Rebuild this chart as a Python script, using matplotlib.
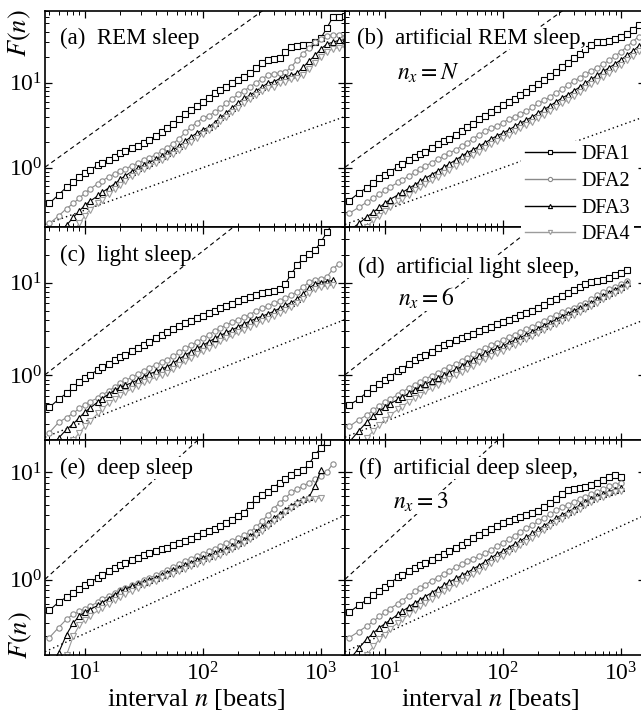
import numpy as np
import matplotlib
matplotlib.use('Agg')
import matplotlib.pyplot as plt
from matplotlib.lines import Line2D
from matplotlib.ticker import NullFormatter

plt.rcParams['font.family'] = ['Liberation Serif', 'DejaVu Serif']
plt.rcParams['mathtext.fontset'] = 'stix'

# window size n (beats)
N = [5, 6, 7, 8, 9, 10, 11, 13, 14, 16,
     18, 20, 22, 25, 28, 32, 35, 40, 45, 50,
     56, 63, 71, 79, 89, 100, 112, 126, 141, 158,
     178, 200, 224, 251, 282, 316, 355, 398, 447, 501,
     562, 631, 708, 794, 891, 1000, 1122, 1259, 1413, 1585]

# (a) REM sleep
A_DFA1 = [0.38, 0.48, 0.59, 0.68, 0.78, 0.86, 0.94, 1.07, 1.13, 1.23,
          1.33, 1.49, 1.57, 1.70, 1.80, 1.95, 2.12, 2.36, 2.63, 2.93,
          3.27, 3.74, 4.29, 4.78, 5.3, 5.9, 6.6, 7.6, 8.2, 8.9,
          9.9, 10.8, 11.7, 13.0, 14.9, 17.1, 18.5, 19.0, 19.6, 23,
          26.4, 27.1, 27.8, 27.8, 30.2, 33.7, 44, 59, 59, 61]
A_DFA2 = [0.22, 0.27, 0.33, 0.38, 0.44, 0.50, 0.56, 0.65, 0.70, 0.78,
          0.85, 0.91, 0.97, 1.05, 1.13, 1.22, 1.30, 1.42, 1.56, 1.72,
          1.92, 2.2, 2.6, 3.0, 3.4, 3.85, 4.1, 4.5, 5.0, 5.7,
          6.5, 7.3, 8.1, 8.9, 10.0, 11.1, 12.2, 12.8, 13.0, 13.3,
          15.5, 18.5, 22, 26, 30, 33, 35.5, 37, 37, 35]
A_DFA3 = [0.13, 0.17, 0.21, 0.26, 0.31, 0.36, 0.40, 0.47, 0.51, 0.58,
          0.65, 0.73, 0.80, 0.90, 0.98, 1.08, 1.15, 1.25, 1.36, 1.48,
          1.62, 1.8, 2.05, 2.3, 2.55, 2.78, 3.0, 3.4, 3.9, 4.4,
          5.1, 5.8, 6.6, 7.1, 8.0, 8.9, 9.9, 10.2, 11.2, 11.8,
          12.2, 13.0, 15.3, 18.0, 21, 25, 28.5, 30, 31.5, 32]
A_DFA4 = [0.09, 0.11, 0.14, 0.18, 0.22, 0.27, 0.32, 0.38, 0.42, 0.49,
          0.56, 0.63, 0.70, 0.80, 0.88, 0.97, 1.04, 1.13, 1.23, 1.33,
          1.45, 1.6, 1.8, 2.0, 2.25, 2.5, 2.75, 3.1, 3.5, 3.9,
          4.5, 5.1, 5.8, 6.4, 7.1, 7.9, 8.6, 9.0, 9.8, 10.3,
          11.0, 11.5, 12.5, 14.5, 17, 20, 23, 25, 26, 26.5]

# (b) artificial REM sleep
B_DFA1 = [0.41, 0.50, 0.58, 0.66, 0.75, 0.83, 0.90, 1.02, 1.10, 1.22,
          1.33, 1.44, 1.54, 1.70, 1.88, 2.05, 2.2, 2.45, 2.7, 3.0,
          3.3, 3.7, 4.1, 4.5, 4.9, 5.4, 5.9, 6.5, 7.1, 7.8,
          8.6, 9.6, 10.7, 12.0, 13.5, 15.2, 17.2, 19.5, 22, 25,
          28, 30, 30.5, 31, 33, 35, 38, 42, 48]
B_DFA2 = [0.29, 0.34, 0.39, 0.44, 0.49, 0.54, 0.59, 0.67, 0.71, 0.80,
          0.88, 0.96, 1.04, 1.15, 1.25, 1.38, 1.48, 1.63, 1.80, 1.97,
          2.2, 2.45, 2.7, 2.9, 3.1, 3.4, 3.7, 4.0, 4.3, 4.6,
          5.2, 5.7, 6.2, 6.8, 7.6, 8.4, 9.4, 10.4, 11.5, 12.6,
          13.8, 15.1, 16.6, 18.4, 20.6, 23.2, 26.5, 30.5, 35]
B_DFA3 = [0.18, 0.22, 0.26, 0.30, 0.34, 0.38, 0.42, 0.48, 0.51, 0.57,
          0.63, 0.69, 0.75, 0.83, 0.91, 1.02, 1.10, 1.24, 1.37, 1.50,
          1.62, 1.78, 1.97, 2.16, 2.37, 2.55, 2.78, 3.06, 3.35, 3.65,
          3.97, 4.4, 4.85, 5.35, 5.95, 6.6, 7.2, 8.0, 8.9, 9.9,
          11.0, 12.2, 13.6, 15.0, 16.7, 18.6, 21, 23.5, 27]
B_DFA4 = [0.14, 0.17, 0.20, 0.24, 0.27, 0.31, 0.34, 0.40, 0.43, 0.48,
          0.54, 0.59, 0.64, 0.71, 0.78, 0.87, 0.94, 1.06, 1.17, 1.28,
          1.4, 1.54, 1.72, 1.89, 2.06, 2.22, 2.42, 2.67, 2.93, 3.19,
          3.45, 3.83, 4.2, 4.65, 5.17, 5.73, 6.2, 6.9, 7.7, 8.6,
          9.6, 10.6, 11.8, 13.0, 14.5, 16.2, 18.4, 20.6, 23.5]

# (c) light sleep
C_DFA1 = [0.45, 0.55, 0.64, 0.74, 0.84, 0.93, 1.01, 1.15, 1.22, 1.34,
          1.46, 1.57, 1.67, 1.82, 1.97, 2.15, 2.3, 2.5, 2.7, 2.9,
          3.15, 3.4, 3.65, 3.9, 4.15, 4.4, 4.7, 5.0, 5.3, 5.6,
          5.9, 6.3, 6.7, 7.0, 7.4, 7.7, 7.9, 8.1, 8.6, 9.8,
          12.5, 15.5, 18.5, 20.5, 22.5, 27.5, 35, 44]
C_DFA2 = [0.24, 0.31, 0.35, 0.39, 0.44, 0.48, 0.52, 0.57, 0.61, 0.68,
          0.75, 0.82, 0.88, 0.95, 1.03, 1.12, 1.2, 1.3, 1.4, 1.48,
          1.6, 1.78, 1.95, 2.1, 2.3, 2.5, 2.75, 3.0, 3.25, 3.5,
          3.75, 4.0, 4.25, 4.5, 5.0, 5.3, 5.6, 6.0, 6.3, 6.8,
          7.4, 8.0, 9.0, 10.2, 10.8, 11.0, 11.5, 14, 16]
C_DFA3 = [0.16, 0.21, 0.26, 0.30, 0.35, 0.40, 0.44, 0.52, 0.56, 0.63,
          0.69, 0.74, 0.78, 0.83, 0.89, 0.97, 1.03, 1.1, 1.17, 1.24,
          1.35, 1.5, 1.65, 1.8, 1.95, 2.1, 2.3, 2.5, 2.7, 2.9,
          3.1, 3.35, 3.6, 3.85, 4.1, 4.35, 4.6, 4.9, 5.3, 5.7,
          6.1, 6.7, 7.6, 8.8, 9.6, 10, 10.3, 10.6]
C_DFA4 = [0.10, 0.13, 0.16, 0.20, 0.24, 0.28, 0.32, 0.39, 0.43, 0.50,
          0.56, 0.62, 0.66, 0.71, 0.77, 0.84, 0.89, 0.95, 1.01, 1.07,
          1.16, 1.28, 1.41, 1.54, 1.68, 1.82, 1.98, 2.15, 2.33, 2.5,
          2.7, 2.9, 3.1, 3.35, 3.6, 3.85, 4.1, 4.4, 4.75, 5.1,
          5.5, 6.0, 6.7, 7.7, 8.5, 9.0, 9.2, 9.5]

# (d) artificial light sleep
D_DFA1 = [0.48, 0.55, 0.65, 0.73, 0.81, 0.89, 0.97, 1.1, 1.18, 1.32,
          1.47, 1.57, 1.65, 1.8, 1.98, 2.12, 2.22, 2.38, 2.52, 2.65,
          2.82, 3.0, 3.18, 3.35, 3.55, 3.76, 3.95, 4.2, 4.47, 4.7,
          5.0, 5.3, 5.75, 6.3, 6.7, 7.2, 7.7, 8.3, 9.0, 9.8,
          10.3, 10.5, 10.8, 11.3, 12, 12.8, 13.8]
D_DFA2 = [0.28, 0.33, 0.37, 0.42, 0.47, 0.51, 0.55, 0.62, 0.66, 0.73,
          0.79, 0.85, 0.91, 0.99, 1.06, 1.15, 1.22, 1.32, 1.42, 1.55,
          1.68, 1.82, 1.95, 2.1, 2.25, 2.4, 2.6, 2.75, 2.9, 3.15,
          3.35, 3.6, 3.9, 4.2, 4.5, 4.8, 5.1, 5.4, 5.75, 6.0,
          6.6, 7.3, 7.9, 8.5, 9.0, 9.6, 10.5]
D_DFA3 = [0.19, 0.25, 0.31, 0.36, 0.41, 0.45, 0.49, 0.55, 0.58, 0.64,
          0.70, 0.75, 0.80, 0.87, 0.93, 1.0, 1.07, 1.16, 1.25, 1.36,
          1.48, 1.6, 1.72, 1.85, 1.96, 2.05, 2.25, 2.4, 2.55, 2.75,
          2.95, 3.2, 3.45, 3.7, 4.0, 4.3, 4.6, 4.95, 5.3, 5.65,
          6.1, 6.6, 7.2, 7.8, 8.4, 9.1, 10.0]
D_DFA4 = [0.13, 0.17, 0.21, 0.25, 0.29, 0.33, 0.37, 0.43, 0.46, 0.52,
          0.57, 0.62, 0.67, 0.73, 0.79, 0.86, 0.92, 1.0, 1.08, 1.17,
          1.27, 1.38, 1.5, 1.62, 1.74, 1.85, 2.0, 2.15, 2.3, 2.47,
          2.65, 2.85, 3.08, 3.32, 3.6, 3.88, 4.2, 4.5, 4.85, 5.2,
          5.6, 6.05, 6.6, 7.2, 7.8, 8.4, 9.2]

# (e) deep sleep
E_DFA1 = [0.52, 0.62, 0.69, 0.75, 0.83, 0.90, 0.96, 1.04, 1.1, 1.2,
          1.3, 1.38, 1.44, 1.52, 1.6, 1.7, 1.78, 1.87, 1.94, 2.0,
          2.1, 2.2, 2.3, 2.42, 2.55, 2.7, 2.85, 3.0, 3.15, 3.35,
          3.6, 3.9, 4.2, 5.0, 5.6, 6.1, 6.6, 7.2, 8.0, 8.7,
          9.5, 10, 10.5, 12, 14.5, 17, 19]
E_DFA2 = [0.29, 0.36, 0.43, 0.48, 0.51, 0.54, 0.57, 0.62, 0.66, 0.71,
          0.76, 0.80, 0.84, 0.89, 0.93, 0.99, 1.04, 1.1, 1.17, 1.24,
          1.32, 1.41, 1.5, 1.58, 1.66, 1.74, 1.84, 1.95, 2.05, 2.18,
          2.3, 2.45, 2.6, 2.8, 3.1, 3.5, 4.0, 4.6, 5.2, 5.8,
          6.5, 7.0, 7.5, 8.0, 8.6, 9.2, 10, 12]
E_DFA3 = [0.15, 0.21, 0.31, 0.40, 0.46, 0.50, 0.53, 0.58, 0.61, 0.67,
          0.73, 0.78, 0.82, 0.87, 0.91, 0.96, 1.0, 1.05, 1.11, 1.17,
          1.23, 1.3, 1.37, 1.44, 1.52, 1.6, 1.68, 1.76, 1.85, 1.95,
          2.05, 2.2, 2.35, 2.55, 2.8, 3.1, 3.4, 3.75, 4.1, 4.5,
          4.9, 5.3, 5.6, 5.9, 7.5, 10.5]
E_DFA4 = [0.09, 0.13, 0.2, 0.3, 0.38, 0.42, 0.46, 0.52, 0.55, 0.60,
          0.65, 0.70, 0.74, 0.79, 0.84, 0.89, 0.93, 0.98, 1.03, 1.08,
          1.14, 1.2, 1.27, 1.34, 1.41, 1.48, 1.56, 1.64, 1.72, 1.82,
          1.92, 2.05, 2.2, 2.38, 2.6, 2.85, 3.15, 3.5, 3.85, 4.25,
          4.7, 5.1, 5.4, 5.6, 5.7, 5.8]

# (f) artificial deep sleep
F_DFA1 = [0.50, 0.58, 0.65, 0.72, 0.79, 0.86, 0.93, 1.06, 1.11, 1.2,
          1.29, 1.37, 1.44, 1.53, 1.63, 1.75, 1.85, 1.98, 2.12, 2.27,
          2.45, 2.62, 2.78, 2.95, 3.15, 3.37, 3.55, 3.7, 3.85, 4.0,
          4.15, 4.4, 4.75, 5.2, 5.7, 6.3, 6.8, 7.0, 7.1, 7.3,
          7.6, 8.0, 8.5, 9.0, 9.4, 9.1]
F_DFA2 = [0.29, 0.33, 0.37, 0.41, 0.46, 0.50, 0.54, 0.60, 0.64, 0.71,
          0.78, 0.84, 0.90, 0.98, 1.05, 1.14, 1.21, 1.31, 1.4, 1.49,
          1.57, 1.66, 1.76, 1.9, 2.05, 2.22, 2.38, 2.58, 2.8, 3.02,
          3.24, 3.5, 3.78, 4.08, 4.42, 4.72, 5.0, 5.3, 5.6, 5.9,
          6.25, 6.6, 7.0, 7.4, 7.7, 7.9]
F_DFA3 = [0.18, 0.23, 0.28, 0.32, 0.36, 0.39, 0.42, 0.48, 0.51, 0.56,
          0.61, 0.65, 0.70, 0.76, 0.82, 0.89, 0.95, 1.03, 1.1, 1.17,
          1.26, 1.36, 1.48, 1.6, 1.73, 1.85, 2.0, 2.15, 2.3, 2.5,
          2.7, 2.95, 3.2, 3.45, 3.75, 4.0, 4.3, 4.6, 4.95, 5.3,
          5.65, 6.0, 6.3, 6.6, 6.9, 7.1]
F_DFA4 = [0.12, 0.16, 0.20, 0.24, 0.28, 0.31, 0.35, 0.40, 0.43, 0.48,
          0.53, 0.57, 0.61, 0.67, 0.72, 0.79, 0.84, 0.91, 0.98, 1.05,
          1.13, 1.22, 1.33, 1.44, 1.56, 1.68, 1.8, 1.95, 2.1, 2.27,
          2.45, 2.68, 2.9, 3.15, 3.42, 3.7, 3.98, 4.28, 4.6, 4.95,
          5.3, 5.6, 5.95, 6.25, 6.5, 6.7]

LABELS = ['DFA1', 'DFA2', 'DFA3', 'DFA4']
TITLES = ['(a)  REM sleep', '(b)  artificial REM sleep,',
          '(c)  light sleep', '(d)  artificial light sleep,',
          '(e)  deep sleep', '(f)  artificial deep sleep,']
NX_TEXT = [None, r'$n_x = N$', None, r'$n_x = 6$', None, r'$n_x = 3$']
ROW_YLIM = [(0.2, 70), (0.2, 40), (0.2, 20)]
XLIM = (4.6, 1600)

# guide lines F ~ n^1 (dashed) and F ~ n^0.5 (dotted)
DASH_C, DASH_EXP = 0.22, 1.0
DOT_C, DOT_EXP = 0.1, 0.5

PANELS = [[A_DFA1, A_DFA2, A_DFA3, A_DFA4],
          [B_DFA1, B_DFA2, B_DFA3, B_DFA4],
          [C_DFA1, C_DFA2, C_DFA3, C_DFA4],
          [D_DFA1, D_DFA2, D_DFA3, D_DFA4],
          [E_DFA1, E_DFA2, E_DFA3, E_DFA4],
          [F_DFA1, F_DFA2, F_DFA3, F_DFA4]]

GRAY2 = '#8a8a8a'
GRAY4 = '#9c9c9c'
STYLES = [dict(color='black', marker='s', ms=4.2, mfc='white', mec='black', mew=0.8, lw=0.8),
          dict(color=GRAY2, marker='o', ms=3.8, mfc='white', mec=GRAY2, mew=0.8, lw=0.8),
          dict(color='black', marker='^', ms=4.6, mfc='white', mec='black', mew=0.8, lw=0.8),
          dict(color=GRAY4, marker='v', ms=4.6, mfc='white', mec=GRAY4, mew=0.8, lw=0.8)]

W, H = 641, 715
fig = plt.figure(figsize=(W / 100, H / 100), dpi=100)

def box(x0, y0, x1, y1):
    return [x0 / W, 1 - y1 / H, (x1 - x0) / W, (y1 - y0) / H]

COL_X = [(45, 345), (345, 645)]
ROW_Y = [(11, 227), (227, 440), (440, 655)]
TITLE_POS = [(60, 38), (357, 38), (60, 255), (358, 267), (60, 468), (359, 468)]
NX_POS = [None, (397, 73), None, (398, 298), None, (393, 502)]

ref_n = np.array(XLIM)
for i, curves in enumerate(PANELS):
    r, c = divmod(i, 2)
    ax = fig.add_axes(box(COL_X[c][0], ROW_Y[r][0], COL_X[c][1], ROW_Y[r][1]))
    ax.set_xscale('log')
    ax.set_yscale('log')
    ax.plot(ref_n, DASH_C * ref_n ** DASH_EXP, color='black', lw=0.8, ls=(0, (4, 3)))
    ax.plot(ref_n, DOT_C * ref_n ** DOT_EXP, color='black', lw=1.0, ls=(0, (1, 2.2)))
    for vals, st in zip(curves, STYLES):
        ax.plot(N[:len(vals)], vals, **st)
    ax.set_xlim(XLIM)
    ax.set_ylim(ROW_YLIM[r])
    ax.tick_params(which='both', direction='in', top=True, right=True,
                   labelsize=17, labelleft=(c == 0), labelbottom=(r == 2))
    ax.tick_params(which='major', length=5, width=0.9)
    ax.tick_params(which='minor', length=2.8, width=0.7)
    ax.tick_params(axis='y', pad=2)
    ax.tick_params(axis='x', pad=5)
    ax.xaxis.set_minor_formatter(NullFormatter())
    ax.yaxis.set_minor_formatter(NullFormatter())
    for sp in ax.spines.values():
        sp.set_linewidth(1.2)

    tx, ty = TITLE_POS[i]
    fig.text(tx / W, 1 - ty / H, TITLES[i], fontsize=16.5, va='center', ha='left',
             bbox=dict(facecolor='white', edgecolor='none', pad=0))
    if NX_TEXT[i]:
        nx, ny = NX_POS[i]
        fig.text(nx / W, 1 - ny / H, NX_TEXT[i], fontsize=17, va='center', ha='left',
                 bbox=dict(facecolor='white', edgecolor='none', pad=0))

fig.text(20 / W, 1 - 33 / H, '$F(n)$', rotation=90, fontsize=19, ha='center', va='center')
fig.text(21 / W, 1 - 635 / H, '$F(n)$', rotation=90, fontsize=19, ha='center', va='center')
fig.text(196 / W, 1 - 700 / H, 'interval $n$ [beats]', fontsize=19, ha='center', va='center')
fig.text(490 / W, 1 - 700 / H, 'interval $n$ [beats]', fontsize=19, ha='center', va='center')

handles = []
for st in STYLES:
    hs = dict(st)
    hs['ms'] = 3.0
    hs['lw'] = 1.0
    handles.append(Line2D([], [], **hs))
leg = fig.legend(handles, LABELS, loc='upper left', bbox_to_anchor=(521 / W, 1 - 141 / H),
                 frameon=True, fancybox=False, facecolor='white', edgecolor='none',
                 framealpha=1.0, fontsize=14.5, handlelength=2.5, handletextpad=0.3,
                 labelspacing=0.38, borderpad=0.2, borderaxespad=0, numpoints=1)

fig.savefig('out.png', dpi=100)
